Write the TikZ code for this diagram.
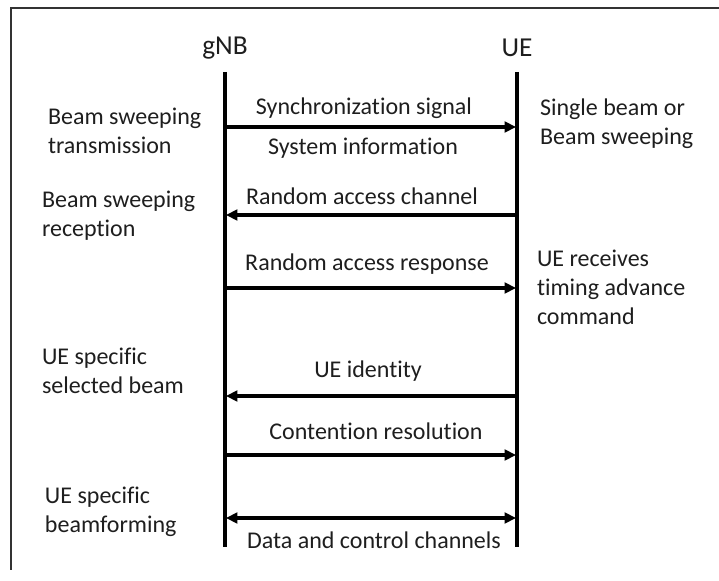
\documentclass[tikz,border=0pt]{standalone}
\usepackage{fontspec}
\setmainfont{Carlito}[Ligatures=NoCommon]
\usetikzlibrary{arrows.meta}
\definecolor{txt}{HTML}{1E1E1E}
\begin{document}
\begin{tikzpicture}[x=0.75pt,y=-0.75pt,
  every node/.style={inner sep=0pt,outer sep=0pt,text=txt,font=\fontsize{18}{21.75}\selectfont},
  head/.style={font=\fontsize{20.5}{24}\selectfont},
  lifeline/.style={line width=3pt,black},
  msg/.style={line width=2.4pt,black,-{Triangle[length=8.5pt,width=8pt]}},
  bimsg/.style={line width=2.4pt,black,{Triangle[length=8.5pt,width=8pt]}-{Triangle[length=8.5pt,width=8pt]}},
  note/.style={anchor=west,align=left},
  frameline/.style={line width=1.6pt,black!80}]
\useasboundingbox (0,0) rectangle (719,581);
\draw[frameline] (11,570) -- (11,8) -- (719,8);
% lifelines
\node[head] (gnb) at (225,48) {gNB};
\node[head] (ue) at (517,48) {UE};
\coordinate (gtop) at (225,72);
\coordinate (gbot) at (225,547);
\coordinate (utop) at (517,72);
\coordinate (ubot) at (517,547);
\draw[lifeline] (gtop) -- (gbot);
\draw[lifeline] (utop) -- (ubot);
% message endpoints
\coordinate (g1) at (226,127); \coordinate (u1) at (516,127);
\coordinate (g2) at (226,215); \coordinate (u2) at (516,215);
\coordinate (g3) at (226,288); \coordinate (u3) at (516,288);
\coordinate (g4) at (226,396); \coordinate (u4) at (516,396);
\coordinate (g5) at (226,455); \coordinate (u5) at (516,455);
\coordinate (g6) at (226,518); \coordinate (u6) at (516,518);
\draw[msg] (g1) -- (u1);
\draw[msg] (u2) -- (g2);
\draw[msg] (g3) -- (u3);
\draw[msg] (u4) -- (g4);
\draw[msg] (g5) -- (u5);
\draw[bimsg] (g6) -- (u6);
% message labels
\node (l1) at (364,108) {Synchronization signal};
\node (l1b) at (363,148) {System information};
\node (l2) at (362,196) {Random access channel};
\node (l3) at (367,264) {Random access response};
\node (l4) at (368,371) {UE identity};
\node (l5) at (376,431) {Contention resolution};
\node (l6) at (374,540) {Data and control channels};
% side notes
\node[note] (n1) at (48,131) {Beam sweeping\\transmission};
\node[note] (n2) at (42,216) {Beam sweeping\\reception};
\node[note] (n3) at (42,371) {UE specific\\selected beam};
\node[note] (n4) at (45,512) {UE specific\\beamforming};
\node[note] (n5) at (540,124) {Single beam or\\Beam sweeping};
\node[note] (n6) at (537,287) {UE receives\\timing advance\\command};
\end{tikzpicture}
\end{document}
